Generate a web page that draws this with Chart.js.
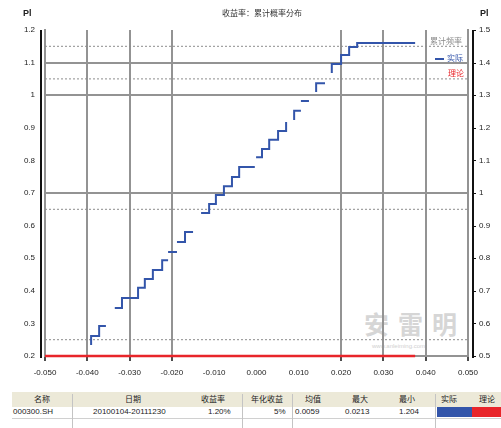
<!DOCTYPE html>
<html>
<head>
<meta charset="utf-8">
<script src="https://cdn.jsdelivr.net/npm/chart.js@4.4.1/dist/chart.umd.min.js"></script>
<style>
  body { margin: 0; background: #fff; font-family: "Liberation Sans", "Noto Sans CJK SC", sans-serif; }
  #wrap { position: relative; width: 501px; height: 428px; overflow: hidden; }
  #wrap .t { position: absolute; white-space: nowrap; font-size: 8px; line-height: 10px; color: #222; }
  #wrap .b { position: absolute; }
  canvas { position: absolute; left: 0; top: 0; }
</style>
</head>
<body>
<div id="wrap">
  <!-- watermark, behind the chart -->
  <div class="t" style="left:364px;top:311px;font-size:25px;line-height:28px;letter-spacing:9px;color:#d6d6d6;font-weight:bold;">安雷明</div>
  <div class="t" style="left:372px;top:343px;font-size:6px;line-height:7px;color:#d0d0d0;">www.anleiming.com</div>

  <canvas id="c" width="501" height="385"></canvas>

  <div class="t" style="left:23px;top:8px;font-size:9px;font-weight:bold;">Pl</div>
  <div class="t" style="left:480px;top:8px;font-size:9px;font-weight:bold;">Pl</div>
  <div class="t" style="left:222px;top:9px;color:#333;">收益率：累计概率分布</div>

  <!-- legend -->
  <div class="t" style="left:430px;top:37px;color:#8a8a8a;">累计频率</div>
  <div class="b" style="left:435px;top:58px;width:9px;height:2px;background:#3355aa;"></div>
  <div class="t" style="left:447px;top:54px;color:#3355aa;">实际</div>
  <div class="t" style="left:448px;top:69px;color:#e8252a;">理论</div>

  <!-- stats table -->
  <div class="b" style="left:12px;top:392px;width:489px;height:15px;background:#ece9d8;"></div>
  <div class="b" style="left:12px;top:418px;width:489px;height:1px;background:#d0d0d0;"></div>
  <div class="b" style="left:72px;top:394px;width:1px;height:34px;background:#c4c4c4;"></div>
  <div class="b" style="left:242px;top:394px;width:1px;height:34px;background:#c4c4c4;"></div>
  <div class="b" style="left:292px;top:394px;width:1px;height:34px;background:#c4c4c4;"></div>
  <div class="b" style="left:435px;top:394px;width:1px;height:34px;background:#c4c4c4;"></div>
  <div class="b" style="left:437px;top:407px;width:35px;height:10px;background:#3355aa;"></div>
  <div class="b" style="left:472px;top:407px;width:29px;height:10px;background:#e8252a;"></div>

  <div class="t" style="left:34px;top:395px;">名称</div>
  <div class="t" style="left:125px;top:395px;">日期</div>
  <div class="t" style="left:201px;top:395px;">收益率</div>
  <div class="t" style="left:251px;top:395px;">年化收益</div>
  <div class="t" style="left:305px;top:395px;">均值</div>
  <div class="t" style="left:352px;top:395px;">最大</div>
  <div class="t" style="left:399px;top:395px;">最小</div>
  <div class="t" style="left:441px;top:395px;">实际</div>
  <div class="t" style="left:479px;top:395px;">理论</div>

  <div class="t" style="left:13px;top:407px;">000300.SH</div>
  <div class="t" style="left:93px;top:407px;">20100104-20111230</div>
  <div class="t" style="left:208px;top:407px;">1.20%</div>
  <div class="t" style="left:274px;top:407px;">5%</div>
  <div class="t" style="left:295px;top:407px;">0.0059</div>
  <div class="t" style="left:345px;top:407px;">0.0213</div>
  <div class="t" style="left:399px;top:407px;">1.204</div>
</div>

<script>
// tick labels (index 0 = left / bottom)
const xLabels = ['-0.050', '-0.040', '-0.030', '-0.020', '-0.010', '0.000', '0.010', '0.020', '0.030', '0.040', '0.050'];
const yLeftLabels = ['0.2', '0.3', '0.4', '0.5', '0.6', '0.7', '0.8', '0.9', '1', '1.1', '1.2'];
const yRightLabels = ['0.5', '0.6', '0.7', '0.8', '0.9', '1', '1.1', '1.2', '1.3', '1.4', '1.5'];

// which ticks get a grid line / tick mark
const xGridAt = [1, 2, 3, 7, 8, 9];
const xTickAt = [0, 1, 2, 3, 7, 8, 9, 10];
const yGridAt = [5, 8, 9];

// blue step curve, null = break
const stepX = [1.09, 1.28, 1.44, null,
  1.65, 1.82, 2.2, 2.36, 2.55, 2.77, 2.91, null,
  2.91, 3.12, null,
  3.12, 3.31, 3.5, null,
  3.69, 3.88, 4.04, 4.23, 4.42, 4.59, 4.96, null,
  4.99, 5.13, 5.3, 5.51, 5.7, 5.7, null,
  5.89, 6.05, null,
  6.05, 6.24, null,
  6.41, 6.62, null,
  6.78, 7.0, 7.19, 7.38, 8.75];
const stepY = [0.34, 0.61, 0.92, null,
  1.47, 1.47, 1.78, 2.09, 2.36, 2.64, 2.94, null,
  3.19, 3.19, null,
  3.5, 3.5, 3.8, null,
  4.39, 4.39, 4.66, 4.94, 5.21, 5.49, 5.8, null,
  6.1, 6.1, 6.35, 6.63, 6.9, 7.18, null,
  7.24, 7.52, null,
  7.82, 7.82, null,
  8.1, 8.37, null,
  8.68, 8.96, 9.23, 9.48, 9.6];

// red line
const redX = [0, 8.75];
const redY = [0, 0];

// dotted reference levels
const refLevels = [0.5, 4.5, 8.5, 9.5];
const refSpan = [0, 10];

const toPts = (xs, ys) => xs.map((x, i) => ({ x, y: ys[i] }));
const refPts = [];
refLevels.forEach(l => {
  refPts.push({ x: refSpan[0], y: l }, { x: refSpan[1], y: l }, { x: null, y: null });
});

const TICK_FONT = { family: 'Liberation Sans', size: 8 };

// black outer axis lines + right tick marks
const frame = {
  id: 'frame',
  afterDraw(chart) {
    const { ctx, chartArea: a, scales } = chart;
    ctx.save();
    ctx.strokeStyle = '#111';
    ctx.lineWidth = 2;
    ctx.beginPath();
    ctx.moveTo(a.left - 4, a.top);
    ctx.lineTo(a.left - 4, a.bottom + 2);
    ctx.moveTo(a.right + 5, a.top);
    ctx.lineTo(a.right + 5, a.bottom + 2);
    ctx.stroke();
    ctx.lineWidth = 1;
    ctx.beginPath();
    scales.yR.ticks.forEach((t, i) => {
      const y = Math.round(scales.yR.getPixelForTick(i)) + 0.5;
      ctx.moveTo(a.right + 5, y);
      ctx.lineTo(a.right + 8, y);
    });
    ctx.stroke();
    ctx.restore();
  }
};

new Chart(document.getElementById('c'), {
  type: 'line',
  data: {
    datasets: [
      {
        data: toPts(stepX, stepY),
        borderColor: '#3355aa',
        borderWidth: 2,
        stepped: 'after',
        pointRadius: 0,
        spanGaps: false,
        order: 0,
      },
      {
        data: toPts(redX, redY),
        borderColor: '#e8252a',
        borderWidth: 2.5,
        pointRadius: 0,
        clip: false,
        order: 1,
      },
      {
        data: refPts,
        borderColor: '#8c8c8c',
        borderWidth: 1,
        borderDash: [2, 2],
        pointRadius: 0,
        spanGaps: false,
        order: 2,
      },
    ]
  },
  options: {
    responsive: false,
    animation: false,
    layout: { padding: { top: 30, left: 0, right: 0, bottom: 0 } },
    plugins: { legend: { display: false }, tooltip: { enabled: false } },
    scales: {
      x: {
        type: 'linear', min: 0, max: 10,
        ticks: {
          stepSize: 1, autoSkip: false, maxRotation: 0, padding: 7,
          color: '#222', font: TICK_FONT,
          callback: (v, i) => xLabels[i],
        },
        grid: {
          lineWidth: 2,
          color: c => xGridAt.includes(c.index) ? '#939393' : 'rgba(0,0,0,0)',
          tickColor: c => xTickAt.includes(c.index) ? '#111' : 'rgba(0,0,0,0)',
          tickLength: 5, tickWidth: 1.5,
        },
        border: { color: '#939393', width: 2 },
        afterFit(s) { s.height = 29; },
      },
      y: {
        type: 'linear', position: 'left', min: 0, max: 10,
        ticks: {
          stepSize: 1, autoSkip: false, padding: 10,
          color: '#222', font: TICK_FONT,
          callback: (v, i) => yLeftLabels[i],
        },
        grid: {
          lineWidth: 2, drawTicks: false,
          color: c => yGridAt.includes(c.index) ? '#939393' : 'rgba(0,0,0,0)',
        },
        border: { color: '#939393', width: 2 },
        afterFit(s) { s.width = 45; },
      },
      yR: {
        type: 'linear', position: 'right', min: 0, max: 10,
        ticks: {
          stepSize: 1, autoSkip: false, padding: 11,
          color: '#222', font: TICK_FONT,
          callback: (v, i) => yRightLabels[i],
        },
        grid: { display: false, drawTicks: false },
        border: { color: '#939393', width: 2 },
        afterFit(s) { s.width = 33; },
      },
    }
  },
  plugins: [frame]
});
</script>
</body>
</html>
